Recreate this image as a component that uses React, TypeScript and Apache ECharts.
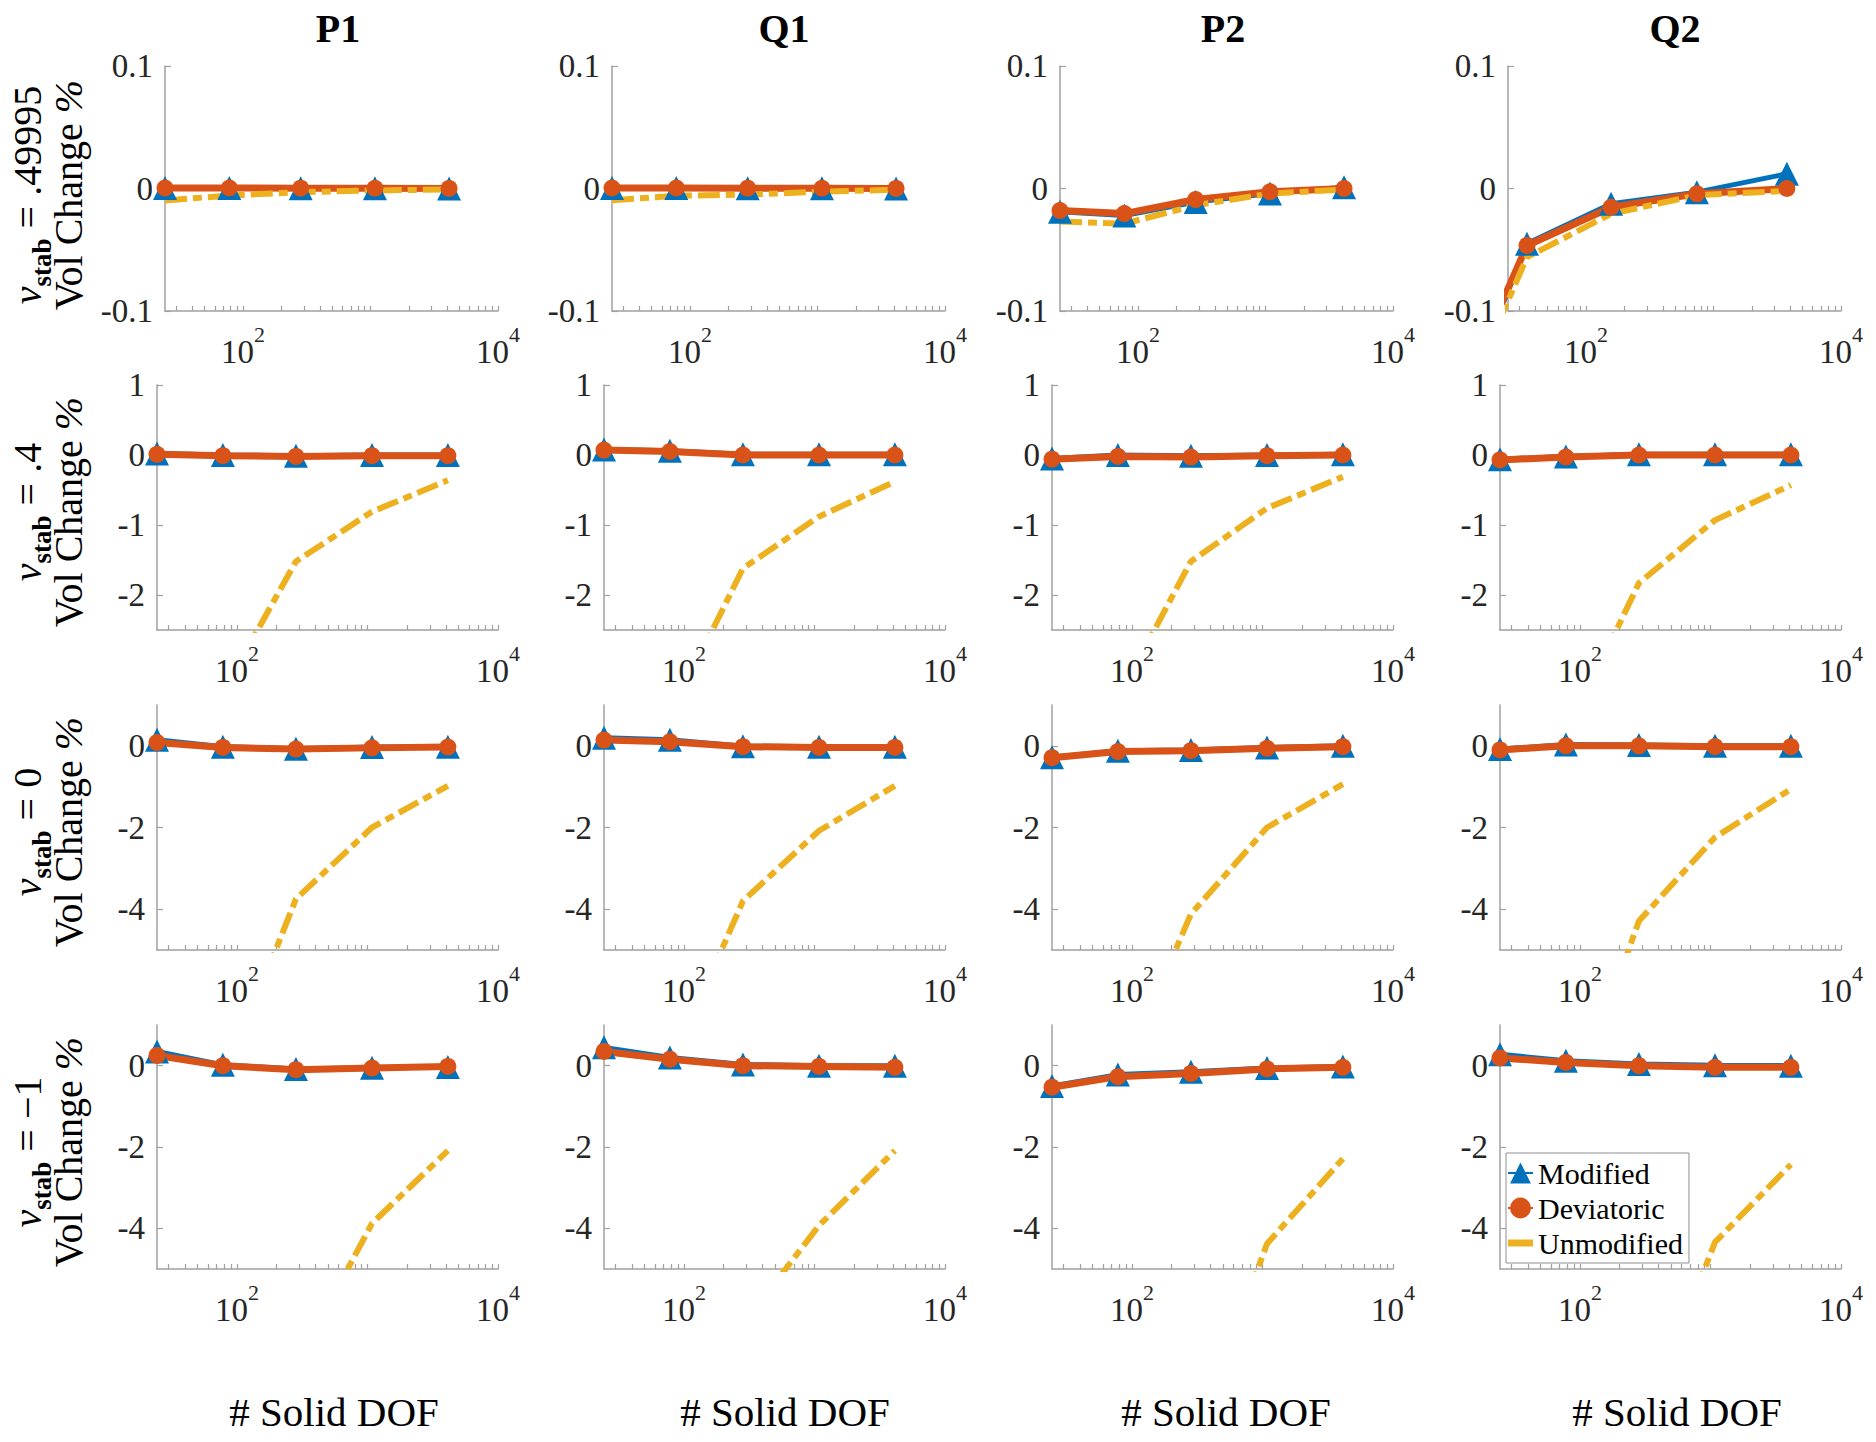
import React, { useEffect, useRef } from "react";
import * as echarts from "echarts";

// ---------- data ----------
const PANEL_TITLES = ["P1", "Q1", "P2", "Q2"];
const ROW_NU = [".49995", ".4", "0", "\u22121"];
const SERIES_NAMES = ["Modified", "Deviatoric", "Unmodified"];

// # Solid DOF (x values)
const DOF = [24.4, 78, 283, 1083, 4130];
const DOF_Q2_ROW1 = [8, 34.4, 157, 740, 3760];

const X_MIN = 24.4;
const X_MAX = 10000;
const X_LABEL_VALUES = [100, 10000];
const X_TICK_VALUES = [30, 40, 50, 60, 70, 80, 90, 100, 200, 300, 400, 500, 600, 700, 800, 900, 1000, 2000, 3000, 4000, 5000, 6000, 7000, 8000, 9000, 10000];

const Y_MIN = [-0.1, -2.5, -5, -5];
const Y_MAX = [0.1, 1, 1, 1];
const Y_TICKS_ROW1 = [-0.1, 0, 0.1];
const Y_TICKS_ROW2 = [-2, -1, 0, 1];
const Y_TICKS_ROW3 = [-4, -2, 0];
const Y_TICKS_ROW4 = [-4, -2, 0];

// Vol change %, per column [P1, Q1, P2, Q2]
const MODIFIED_ROW1 = [
  [0.0005, 0.0004, 0.0003, 0.0002, 0.0001],
  [0.0005, 0.0004, 0.0003, 0.0002, 0.0001],
  [-0.019, -0.022, -0.011, -0.004, 0.001],
  [-0.21, -0.045, -0.0125, -0.003, 0.012],
];
const DEVIATORIC_ROW1 = [
  [0.0004, 0.0004, 0.0003, 0.0002, 0.0001],
  [0.0004, 0.0004, 0.0003, 0.0002, 0.0001],
  [-0.018, -0.0205, -0.009, -0.0027, 0],
  [-0.196, -0.0465, -0.0153, -0.0043, 0],
];
const UNMODIFIED_ROW1 = [
  [-0.0098, -0.0057, -0.003, -0.0016, -0.0008],
  [-0.0095, -0.006, -0.005, -0.0025, -0.001],
  [-0.027, -0.0287, -0.0137, -0.0041, -0.0008],
  [-0.207, -0.056, -0.0207, -0.0055, -0.002],
];

const MODIFIED_ROW2 = [
  [0.02, 0.0, -0.01, 0.0, 0.0],
  [0.08, 0.06, 0.01, 0.01, 0.01],
  [-0.05, 0.0, -0.01, 0.0, 0.01],
  [-0.06, -0.02, 0.01, 0.01, 0.01],
];
const DEVIATORIC_ROW2 = [
  [0.01, -0.01, -0.02, -0.01, -0.01],
  [0.07, 0.05, 0.0, 0.0, 0.0],
  [-0.06, -0.02, -0.03, -0.01, 0],
  [-0.07, -0.03, 0, 0, 0],
];
const UNMODIFIED_ROW2 = [
  [-9, -3.39, -1.52, -0.81, -0.36],
  [-9, -3.73, -1.62, -0.88, -0.38],
  [-9, -3.48, -1.52, -0.76, -0.31],
  [-10, -4.01, -1.83, -0.93, -0.43],
];

const MODIFIED_ROW3 = [
  [0.15, -0.02, -0.07, -0.03, -0.02],
  [0.2, 0.15, -0.01, -0.02, -0.02],
  [-0.28, -0.12, -0.1, -0.04, 0],
  [-0.08, 0.03, 0.02, 0, 0],
];
const DEVIATORIC_ROW3 = [
  [0.08, -0.04, -0.08, -0.05, -0.03],
  [0.14, 0.1, -0.02, -0.04, -0.04],
  [-0.29, -0.14, -0.12, -0.06, -0.02],
  [-0.1, 0, 0, -0.02, -0.02],
];
const UNMODIFIED_ROW3 = [
  [-20, -8.27, -3.75, -2.0, -0.98],
  [-20, -7.9, -3.8, -2.08, -0.98],
  [-20, -8.3, -4.12, -2.0, -0.94],
  [-22, -9.3, -4.29, -2.24, -1.06],
];

const MODIFIED_ROW4 = [
  [0.35, 0.02, -0.08, -0.05, -0.03],
  [0.45, 0.2, 0.03, 0, 0],
  [-0.5, -0.22, -0.15, -0.06, -0.02],
  [0.28, 0.12, 0.04, 0.01, 0],
];
const DEVIATORIC_ROW4 = [
  [0.25, 0, -0.1, -0.06, -0.02],
  [0.35, 0.16, 0, -0.02, -0.04],
  [-0.53, -0.27, -0.19, -0.08, -0.04],
  [0.19, 0.08, 0, -0.04, -0.04],
];
const UNMODIFIED_ROW4 = [
  [-40, -15, -7.38, -3.88, -2.09],
  [-30, -12, -6.37, -3.93, -2.09],
  [-40, -20, -9.5, -4.38, -2.29],
  [-40, -20, -9.2, -4.34, -2.43],
];

const MODIFIED = [MODIFIED_ROW1, MODIFIED_ROW2, MODIFIED_ROW3, MODIFIED_ROW4];
const DEVIATORIC = [DEVIATORIC_ROW1, DEVIATORIC_ROW2, DEVIATORIC_ROW3, DEVIATORIC_ROW4];
const UNMODIFIED = [UNMODIFIED_ROW1, UNMODIFIED_ROW2, UNMODIFIED_ROW3, UNMODIFIED_ROW4];
const Y_TICKS = [Y_TICKS_ROW1, Y_TICKS_ROW2, Y_TICKS_ROW3, Y_TICKS_ROW4];

// ---------- layout / style ----------
const FONT = "Liberation Serif, Times New Roman, serif";
const BLUE = "#0072BD";
const RED = "#D95319";
const ORANGE = "#EDB120";
const AXIS_COLOR = "#a0a0a0";
const LABEL_COLOR = "#262626";
const DASH = [22, 6, 9, 6];

const COL_LEFT = [157, 604, 1052, 1500];
const ROW_TOP = [66, 385, 705, 1025];
const TITLE_X = [338, 784, 1223, 1675];
const XLABEL_X = [334, 785, 1226, 1677];
const YLABEL_Y = [195, 512, 832, 1152];

function buildOption() {
  const grid: any[] = [];
  const xAxis: any[] = [];
  const yAxis: any[] = [];
  const series: any[] = [];

  for (let r = 0; r < 4; r++) {
    for (let c = 0; c < 4; c++) {
      const idx = r * 4 + c;
      const shift = r === 0 ? 8 : 0;
      grid.push({
        left: COL_LEFT[c] + shift,
        top: ROW_TOP[r],
        width: 341 - shift,
        height: r === 3 ? 244 : 245,
        containLabel: false,
        outerBoundsMode: "none",
      });
      xAxis.push({
        type: "log",
        logBase: 10,
        gridIndex: idx,
        min: X_MIN,
        max: X_MAX,
        splitLine: { show: false },
        axisLine: { show: true, onZero: false, lineStyle: { color: AXIS_COLOR, width: 1.5 } },
        axisTick: {
          show: true,
          inside: true,
          length: 5,
          customValues: X_TICK_VALUES,
          lineStyle: { color: AXIS_COLOR, width: 1.2 },
        },
        minorTick: { show: false },
        axisLabel: {
          show: true,
          customValues: X_LABEL_VALUES,
          margin: 12,
          formatter: (v: number) => `{b|10}{s|${Math.round(Math.log10(v))}}`,
          rich: {
            b: { fontSize: 33, fontFamily: FONT, color: LABEL_COLOR, padding: [12, 0, 0, 0], verticalAlign: "bottom" },
            s: { fontSize: 22, fontFamily: FONT, color: LABEL_COLOR, verticalAlign: "top" },
          },
        },
      });
      yAxis.push({
        type: "value",
        gridIndex: idx,
        min: Y_MIN[r],
        max: Y_MAX[r],
        splitLine: { show: false },
        axisLine: { show: true, onZero: false, lineStyle: { color: AXIS_COLOR, width: 1.5 } },
        axisTick: {
          show: true,
          inside: true,
          length: 6,
          customValues: Y_TICKS[r],
          lineStyle: { color: AXIS_COLOR, width: 1.2 },
        },
        axisLabel: {
          show: true,
          customValues: Y_TICKS[r],
          margin: 12,
          fontSize: 33,
          fontFamily: FONT,
          color: LABEL_COLOR,
        },
      });

      const xs = r === 0 && c === 3 ? DOF_Q2_ROW1 : DOF;
      const common = {
        type: "line",
        xAxisIndex: idx,
        yAxisIndex: idx,
        clip: true,
        silent: true,
        emphasis: { disabled: true },
      };
      series.push({
        ...common,
        name: SERIES_NAMES[0],
        data: xs.map((x, i) => [x, MODIFIED[r][c][i]]),
        symbol: "triangle",
        symbolSize: 24,
        lineStyle: { color: BLUE, width: 5 },
        itemStyle: { color: BLUE },
      });
      series.push({
        ...common,
        name: SERIES_NAMES[1],
        data: xs.map((x, i) => [x, DEVIATORIC[r][c][i]]),
        symbol: "circle",
        symbolSize: 17,
        lineStyle: { color: RED, width: 7 },
        itemStyle: { color: RED },
      });
      series.push({
        ...common,
        name: SERIES_NAMES[2],
        data: xs.map((x, i) => [x, UNMODIFIED[r][c][i]]),
        symbol: "none",
        showSymbol: false,
        lineStyle: { color: ORANGE, width: 6, type: DASH },
        itemStyle: { color: ORANGE },
      });
    }
  }

  const graphic: any[] = [];
  for (let c = 0; c < 4; c++) {
    graphic.push({
      type: "text",
      x: TITLE_X[c],
      y: 28,
      style: {
        text: PANEL_TITLES[c],
        fontFamily: FONT,
        fontSize: 40,
        fontWeight: "bold",
        fill: "#000",
        align: "center",
        verticalAlign: "middle",
      },
    });
    graphic.push({
      type: "text",
      x: XLABEL_X[c],
      y: 1412,
      style: {
        text: "# Solid DOF",
        fontFamily: FONT,
        fontSize: 41,
        fill: "#000",
        align: "center",
        verticalAlign: "middle",
      },
    });
  }
  for (let r = 0; r < 4; r++) {
    graphic.push({
      type: "text",
      x: 27,
      y: YLABEL_Y[r],
      rotation: Math.PI / 2,
      style: {
        text: `{nu|\u03bd}{sub|stab}{t| = ${ROW_NU[r]}}`,
        align: "center",
        verticalAlign: "middle",
        fill: "#000",
        fontFamily: FONT,
        fontSize: 40,
        rich: {
          nu: { fontFamily: FONT, fontSize: 40, fontStyle: "italic", lineHeight: 56, fill: "#000", color: "#000" },
          sub: { fontFamily: FONT, fontSize: 27, fontWeight: "bold", verticalAlign: "bottom", fill: "#000", color: "#000" },
          t: { fontFamily: FONT, fontSize: 40, lineHeight: 56, fill: "#000", color: "#000" },
        },
      },
    });
    graphic.push({
      type: "text",
      x: 68,
      y: YLABEL_Y[r],
      rotation: Math.PI / 2,
      style: {
        text: "{a|Vol Change }{p|%}",
        align: "center",
        verticalAlign: "middle",
        fill: "#000",
        fontFamily: FONT,
        fontSize: 40,
        rich: {
          a: { fontFamily: FONT, fontSize: 40, fill: "#000", color: "#000" },
          p: { fontFamily: FONT, fontSize: 40, fontStyle: "italic", fill: "#000", color: "#000" },
        },
      },
    });
  }

  return {
    animation: false,
    backgroundColor: "#ffffff",
    grid,
    xAxis,
    yAxis,
    series,
    graphic,
    legend: {
      data: [
        { name: SERIES_NAMES[0] },
        { name: SERIES_NAMES[1] },
        { name: SERIES_NAMES[2], icon: "path://M0,0 L25,0 L25,7 L0,7 Z", itemStyle: { color: ORANGE } },
      ],
      orient: "vertical",
      left: 1506,
      top: 1153,
      padding: [5, 6, 5, 1],
      itemGap: 5,
      itemWidth: 25,
      itemHeight: 26,
      backgroundColor: "#ffffff",
      borderColor: "#8f8f8f",
      borderWidth: 1,
      borderRadius: 0,
      selectedMode: false,
      textStyle: { fontFamily: FONT, fontSize: 30, color: "#000" },
    },
  };
}

export default function App() {
  const ref = useRef<HTMLDivElement>(null);
  useEffect(() => {
    if (!ref.current) return;
    const chart = echarts.init(ref.current, undefined, { renderer: "svg" });
    chart.setOption(buildOption() as any);
    return () => chart.dispose();
  }, []);
  return (
    <div
      ref={ref}
      style={{ position: "absolute", left: 0, top: 0, width: 1876, height: 1442, background: "#fff" }}
    />
  );
}
